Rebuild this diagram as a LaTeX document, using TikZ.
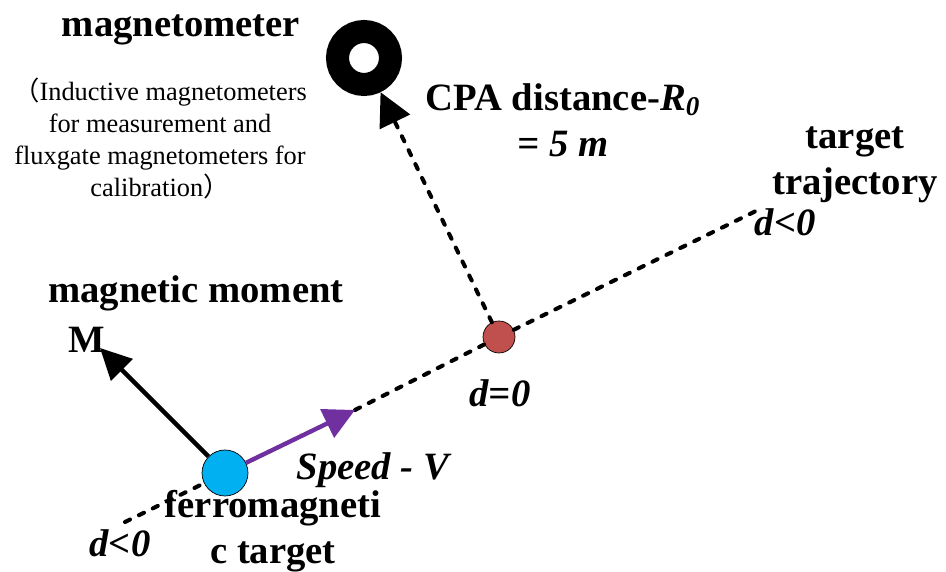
\documentclass[tikz,border=0pt]{standalone}
\usepackage{fontspec}
\setmainfont{Liberation Serif}
\newfontfamily\cjk{Noto Sans CJK SC}
\usetikzlibrary{positioning,arrows.meta}
\definecolor{tgtblue}{HTML}{00B0F0}
\definecolor{cpared}{HTML}{C0504D}
\definecolor{velpurple}{HTML}{7030A0}
\tikzset{
  ring/.style={circle, draw, line width=0.46cm, minimum size=1.06cm,
               inner sep=0pt, outer sep=0.23cm},
  dot/.style={circle, draw, thin, inner sep=0pt},
  lab/.style={font=\fontsize{22}{26}\selectfont\bfseries, align=center},
  dlab/.style={font=\fontsize{22}{26}\selectfont\bfseries\itshape, align=center},
  small/.style={font=\fontsize{15}{18.2}\selectfont, align=center},
  traj/.style={line width=2.3pt, line cap=round, dash pattern=on 3.2pt off 5.6pt},
  moment/.style={line width=2.5pt, -{Triangle[length=0.62cm, width=0.6cm]}},
  vel/.style={line width=2.5pt, draw=velpurple,
              -{Triangle[length=0.62cm, width=0.62cm]}},
  cpaarr/.style={traj, -{Triangle[length=0.66cm, width=0.66cm]}},
}
\begin{document}
\begin{tikzpicture}
  \useasboundingbox (0,0) rectangle (18.92,11.44);
  % sensor, closest point and target
  \node[ring] (mag) at (7.28,10.28) {};
  \node[dot, fill=cpared, minimum size=0.64cm] (cpa) at (9.98,4.70) {};
  \node[dot, fill=tgtblue, minimum size=0.92cm] (tgt) at (4.50,1.98) {};
  \coordinate (t0) at (2.50,1.00);
  \coordinate (t1) at (15.24,7.28);
  \coordinate (vtip) at (7.10,3.24);
  \coordinate (mtip) at (2.00,4.48);
  % trajectory and vectors
  \draw[traj] (t0) -- (tgt);
  \draw[traj] (vtip) -- (cpa);
  \draw[traj] (cpa) -- (t1);
  \draw[vel] (tgt) -- (vtip);
  \draw[moment] (tgt) -- (mtip);
  \draw[cpaarr] (cpa) -- (mag);
  % labels
  \node[lab] (lmag) at (3.62,10.84) {magnetometer};
  \node[small] (lnote) at (3.20,8.67) {{\cjk （}Inductive magnetometers\\
    for measurement and\\ fluxgate magnetometers for\\ calibration{\cjk ）}};
  \node[lab] (lcpa) at (11.26,9.04) {CPA distance-\textit{R}\textsubscript{\textit{0}}\\
    \textit{= 5 m}};
  \node[lab] (ltraj) at (17.10,8.14) {target\\ trajectory};
  \node[dlab] (dend) at (15.70,7.00) {d<0};
  \node[lab] (lmom) at (3.92,5.58) {magnetic moment};
  \node[lab] (lM) at (1.74,4.64) {M};
  \node[dlab] (dzero) at (10.00,3.58) {d=0};
  \node[dlab] (lspeed) at (7.46,2.04) {Speed - V};
  \node[lab] (ltgt) at (5.46,0.82) {ferromagneti\\ c target};
  \node[dlab] (dstart) at (2.40,0.58) {d<0};
\end{tikzpicture}
\end{document}
